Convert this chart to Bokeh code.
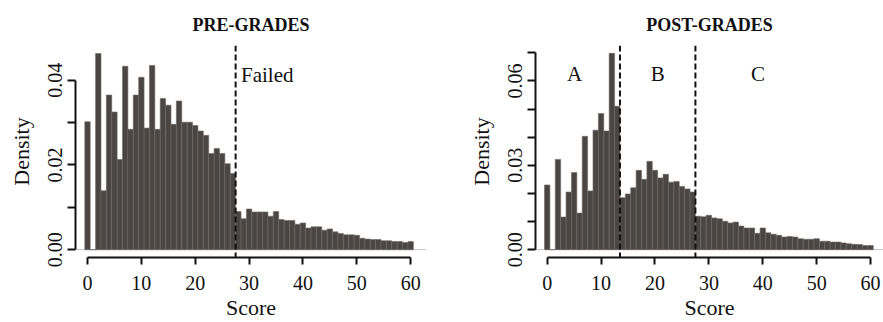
from bokeh.plotting import figure
from bokeh.layouts import row
from bokeh.models import Range1d, FixedTicker, Span, ColumnDataSource, Title
from bokeh.embed import file_html
from bokeh.resources import INLINE
from bokeh.core.properties import value

# ---------------- data ----------------
scores = list(range(61))

pre_density = [
    0.0302, 0.0, 0.0463, 0.0139, 0.0365, 0.0325, 0.0213, 0.0433, 0.0284, 0.0365,
    0.0407, 0.0287, 0.0435, 0.0284, 0.0357, 0.0341, 0.0296, 0.0351, 0.0301, 0.0301,
    0.0293, 0.0280, 0.0270, 0.0227, 0.0239, 0.0227, 0.0203, 0.0180, 0.0090, 0.0073,
    0.0096, 0.0089, 0.0089, 0.0089, 0.0079, 0.0090, 0.0071, 0.0069, 0.0069, 0.0060,
    0.0063, 0.0051, 0.0054, 0.0054, 0.0046, 0.0049, 0.0042, 0.0038, 0.0035, 0.0035,
    0.0034, 0.0027, 0.0025, 0.0024, 0.0024, 0.0021, 0.0021, 0.0019, 0.0019, 0.0017,
    0.0019,
]

post_density = [
    0.0230, 0.0, 0.0321, 0.0116, 0.0205, 0.0274, 0.0130, 0.0403, 0.0209, 0.0425,
    0.0484, 0.0422, 0.0698, 0.0510, 0.0185, 0.0198, 0.0220, 0.0282, 0.0250, 0.0314,
    0.0282, 0.0255, 0.0268, 0.0240, 0.0242, 0.0225, 0.0216, 0.0205, 0.0119, 0.0117,
    0.0122, 0.0113, 0.0110, 0.0101, 0.0095, 0.0098, 0.0084, 0.0077, 0.0077, 0.0058,
    0.0077, 0.0060, 0.0055, 0.0051, 0.0045, 0.0047, 0.0045, 0.0039, 0.0037, 0.0037,
    0.0039, 0.0030, 0.0030, 0.0027, 0.0027, 0.0024, 0.0021, 0.0019, 0.0018, 0.0015,
    0.0015,
]

pre_cutoffs = [27.5]
post_cutoffs = [13.5, 27.5]

x_ticks = [0, 10, 20, 30, 40, 50, 60]
pre_y_ticks = [0.0, 0.01, 0.02, 0.03, 0.04]
pre_y_labels = ["0.00", "", "0.02", "", "0.04"]
post_y_ticks = [0.0, 0.01, 0.02, 0.03, 0.04, 0.05, 0.06, 0.07]
post_y_labels = ["0.00", "", "", "0.03", "", "", "0.06", ""]

pre_title = "PRE-GRADES"
post_title = "POST-GRADES"
pre_region_labels = ["Failed"]
post_region_labels = ["A", "B", "C"]

FONT = "Liberation Serif"
BAR_FILL = "#4a4643"
BAR_LINE = "#6e6865"
INK = "#111111"


def style_axis(ax, label, standoff, label_standoff, tick_out):
    ax.axis_label = label
    ax.axis_label_text_font = FONT
    ax.axis_label_text_font_size = "22px"
    ax.axis_label_text_font_style = "normal"
    ax.axis_label_text_color = INK
    ax.axis_label_standoff = standoff
    ax.major_label_text_font = FONT
    ax.major_label_text_font_size = "20px"
    ax.major_label_text_color = INK
    ax.major_label_standoff = label_standoff
    ax.major_tick_out = tick_out
    ax.major_tick_in = 0
    ax.minor_tick_out = 0
    ax.minor_tick_in = 0
    ax.axis_line_width = 2
    ax.major_tick_line_width = 2
    ax.axis_line_color = INK
    ax.major_tick_line_color = INK


def make_panel(title, density, cutoffs, y_ticks, y_labels, x_rng, y_rng,
               min_left, frame_w, min_right, labels, label_x, label_y,
               label_align):
    p = figure(output_backend="svg", toolbar_location=None,
               frame_width=frame_w, frame_height=212,
               min_border_left=min_left, min_border_right=min_right,
               min_border_top=45, min_border_bottom=65,
               x_range=Range1d(*x_rng), y_range=Range1d(*y_rng),
               background_fill_color="white", border_fill_color="white")
    p.outline_line_color = None
    p.xgrid.grid_line_color = None
    p.ygrid.grid_line_color = None

    t = Title(text=title, align="center", vertical_align="top", text_font=FONT,
              text_font_size="18px", text_font_style="bold",
              text_color=INK, standoff=17)
    p.add_layout(t, "above")

    # baseline
    p.add_layout(Span(location=0, dimension="width", line_color="#c4c4c4",
                      line_width=1, level="underlay"))

    src = ColumnDataSource(dict(x=scores, top=density))
    p.vbar(x="x", top="top", bottom=0, width=1.0, source=src,
           fill_color=BAR_FILL, line_color=BAR_LINE, line_width=0.6)

    for c in cutoffs:
        p.add_layout(Span(location=c, dimension="height", line_color=INK,
                          line_width=2, line_dash="6 3"))

    tsrc = ColumnDataSource(dict(x=label_x, y=label_y, t=labels))
    p.text(x="x", y="y", text="t", source=tsrc, text_font=value(FONT),
           text_font_size="21px", text_color=INK, text_align=label_align,
           text_baseline="alphabetic")

    xa = p.xaxis[0]
    xa.ticker = FixedTicker(ticks=x_ticks)
    xa.bounds = (x_ticks[0], x_ticks[-1])
    style_axis(xa, "Score", 2, 11, 7)

    ya = p.yaxis[0]
    ya.ticker = FixedTicker(ticks=y_ticks)
    ya.bounds = (y_ticks[0], y_ticks[-1])
    ya.major_label_overrides = {tk: lb for tk, lb in zip(y_ticks, y_labels)}
    ya.major_label_orientation = "vertical"
    style_axis(ya, "Density", 12, 5, 8)
    return p


left = make_panel(pre_title, pre_density, pre_cutoffs, pre_y_ticks, pre_y_labels,
                  (-2.23, 62.94), (-0.00185, 0.0482),
                  75, 351, 15,
                  pre_region_labels, [28.5], [0.0412], "left")

right = make_panel(post_title, post_density, post_cutoffs, post_y_ticks, post_y_labels,
                   (-2.17, 62.4), (-0.00279, 0.0726),
                   94, 348, 0,
                   post_region_labels, [5.1, 20.5, 39.1], [0.0623, 0.0623, 0.0623],
                   "center")

layout = row(left, right)

open("out.html", "w").write(file_html(layout, INLINE))
